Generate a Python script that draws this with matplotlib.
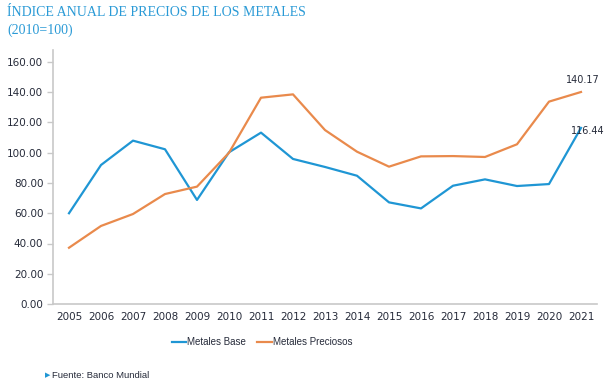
import matplotlib
matplotlib.use("Agg")
import matplotlib.pyplot as plt

years = list(range(2005, 2022))
metales_base = [60.0, 91.9, 108.0, 102.3, 68.8, 100.3, 113.3, 95.9, 90.6, 84.8,
                67.2, 63.2, 78.2, 82.4, 78.0, 79.3, 116.44]
metales_preciosos = [37.2, 51.6, 59.5, 72.7, 77.6, 100.0, 136.4, 138.6, 115.0, 100.7,
                     90.8, 97.6, 97.8, 97.2, 105.6, 133.8, 140.17]
yticks = [0, 20, 40, 60, 80, 100, 120, 140, 160]

BLUE = "#1f96d4"
ORANGE = "#e98a4c"
TXT = "#262b3a"

fig = plt.figure(figsize=(6.12, 3.89), dpi=100)
W, H = 612, 389
ax = fig.add_axes([53 / W, 1 - 304 / H, (597 - 53) / W, (304 - 50) / H])

ax.plot(years, metales_base, color=BLUE, lw=1.6, label="Metales Base")
ax.plot(years, metales_preciosos, color=ORANGE, lw=1.6, label="Metales Preciosos")

ax.set_xlim(2004.5, 2021.5)
ax.set_ylim(0, 160 * 254 / 242)
ax.set_yticks(yticks)
ax.set_yticklabels([f"{v:.2f}" for v in yticks])
ax.set_xticks(years)
ax.set_xticklabels([str(y) for y in years])

for s in ["top", "right"]:
    ax.spines[s].set_visible(False)
for s in ["left", "bottom"]:
    ax.spines[s].set_color("#c8c8c8")
    ax.spines[s].set_linewidth(1.2)
ax.tick_params(axis="y", length=4, width=1, color="#c8c8c8", labelsize=7.5, labelcolor=TXT, pad=3)
ax.tick_params(axis="x", length=0, labelsize=7.5, labelcolor=TXT, pad=6)

ax.annotate(f"{metales_preciosos[-1]:.2f}", (years[-1], metales_preciosos[-1]),
            xytext=(1, 5), textcoords="offset points", ha="center", va="bottom",
            fontsize=7, color=TXT)
ax.annotate(f"{metales_base[-1]:.2f}", (years[-1], metales_base[-1]),
            xytext=(5, -2), textcoords="offset points", ha="center", va="center",
            fontsize=7, color=TXT)

leg = fig.legend(loc="center", bbox_to_anchor=(262 / W, 1 - 342 / H), ncol=2, frameon=False,
                 prop={"family": "Liberation Sans", "size": 7},
                 handlelength=1.5, handletextpad=0.1, columnspacing=1.1)
for t in leg.get_texts():
    t.set_color(TXT)

fig.text(7 / W, 1 - 13 / H, "ÍNDICE ANUAL DE PRECIOS DE LOS METALES", color="#2a9ad6",
         fontsize=10, family="Liberation Serif", va="center", ha="left")
fig.text(7 / W, 1 - 30 / H, "(2010=100)", color="#2a9ad6",
         fontsize=10, family="Liberation Serif", va="center", ha="left")

fig.text(45 / W, 1 - 375 / H, "\u25b6", color=BLUE, fontsize=5, va="center", ha="left")
fig.text(52 / W, 1 - 375 / H, "Fuente: Banco Mundial", color=TXT, fontsize=6.8,
         family="Liberation Sans", va="center", ha="left")

fig.savefig("out.png", dpi=100)
